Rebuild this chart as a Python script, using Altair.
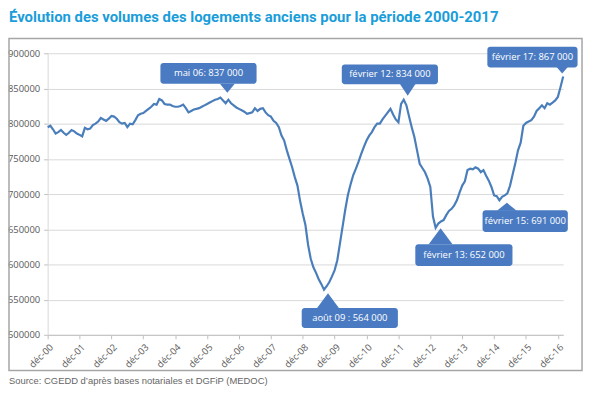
import json
import altair as alt
import pandas as pd

# ---- data (monthly, déc-00 .. févr-17) ----
volumes = [
    795000, 797000, 792000, 786000, 788000, 791000, 787000, 784000, 787000, 791000, 789000, 786000,
    784000, 782000, 794000, 792000, 793000, 798000, 800000, 803000, 808000, 806000, 804000, 807000,
    811000, 810000, 807000, 802000, 800000, 801000, 795000, 800000, 799000, 805000, 812000, 814000,
    815000, 818000, 821000, 824000, 828000, 827000, 835000, 833000, 828000, 827000, 827000, 825000,
    824000, 824000, 825000, 827000, 822000, 816000, 818000, 820000, 821000, 822000, 824000, 826000,
    828000, 830000, 832000, 834000, 835000, 837000, 833000, 829000, 834000, 829000, 826000, 823000,
    821000, 819000, 817000, 814000, 815000, 816000, 822000, 818000, 821000, 822000, 816000, 812000,
    810000, 804000, 801000, 795000, 783000, 776000, 762000, 750000, 738000, 724000, 712000, 690000,
    672000, 656000, 628000, 608000, 596000, 588000, 579000, 572000, 564000, 569000, 575000, 583000,
    592000, 606000, 630000, 654000, 678000, 699000, 714000, 727000, 736000, 746000, 757000, 767000,
    776000, 783000, 788000, 795000, 800000, 800000, 806000, 811000, 816000, 821000, 813000, 806000,
    802000, 828000, 834000, 826000, 810000, 795000, 781000, 762000, 743000, 737000, 731000, 722000,
    710000, 668000, 652000, 658000, 661000, 663000, 670000, 676000, 679000, 684000, 691000, 702000,
    712000, 718000, 734000, 736000, 735000, 738000, 736000, 731000, 734000, 726000, 719000, 710000,
    698000, 697000, 691000, 696000, 698000, 701000, 712000, 728000, 744000, 762000, 773000, 797000,
    801000, 803000, 805000, 810000, 818000, 822000, 826000, 822000, 829000, 827000, 830000, 833000,
    838000, 852000, 867000,
]
months = list(range(len(volumes)))  # months since déc-00

tick_labels = ["déc-00", "déc-01", "déc-02", "déc-03", "déc-04", "déc-05", "déc-06", "déc-07",
               "déc-08", "déc-09", "déc-10", "déc-11", "déc-12", "déc-13", "déc-14", "déc-15",
               "déc-16"]
tick_months = [12 * i for i in range(len(tick_labels))]
y_ticks = [500000, 550000, 600000, 650000, 700000, 750000, 800000, 850000, 900000]

ann_month = [65, 104, 134, 146, 170, 194]
ann_value = [837000, 564000, 834000, 652000, 691000, 867000]
ann_text = ["mai 06: 837 000", "août 09 : 564 000", "février 12: 834 000",
            "février 13: 652 000", "février 15: 691 000", "février 17: 867 000"]

title_text = "Évolution des volumes des logements anciens pour la période 2000-2017"
source_text = "Source: CGEDD d’après bases notariales et DGFiP (MEDOC)"

# ---- styles / placement of callouts (pixels relative to the point) ----
# box dx, box dy, box w, box h, pointer dx, pointer dy, pointer w, pointer h, direction
callout_style = [
    (-12, -24.5, 97, 21, 7, -9.5, 15, 9, "down"),
    (26, 28.5, 97, 20, 4, 11, 22, 15, "up"),
    (-14, -25.5, 97, 20, 4, -10, 16, 12, "down"),
    (28.5, 27.5, 98, 22, 5, 8.5, 24, 16, "up"),
    (26, 21, 86, 22, 7.5, 6.5, 20, 8, "up"),
    (-31, -19.5, 91, 21, -1, -7, 14, 8, "down"),
]

LINE = "#4a7ebb"
BOX = "#4a7bc2"
GRID = "#d9d9d9"
AXIS = "#bfbfbf"
LABEL = "#595959"

W, H = 520, 284

df = pd.DataFrame({"m": months, "v": volumes})

label_expr = json.dumps(tick_labels, ensure_ascii=False) + "[round(datum.value / 12)]"

x_scale = alt.Scale(domain=[0, len(volumes) - 1], nice=False, zero=False)
y_scale = alt.Scale(domain=[500000, 900000], nice=False, zero=False)

x_axis = alt.Axis(values=tick_months, tickCount=len(tick_months), labelExpr=label_expr,
                  labelAngle=-45, labelOverlap=False, grid=False, title=None,
                  domainColor=AXIS, tickColor=AXIS, tickSize=4, labelFont="Open Sans",
                  labelFontSize=9.5, labelColor=LABEL, labelPadding=3)
y_axis = alt.Axis(values=y_ticks, tickCount=len(y_ticks), format="d", labelOverlap=False,
                  title=None, grid=True, gridColor=GRID, domainColor=GRID, tickColor=AXIS,
                  tickSize=4, labelFont="Open Sans", labelFontSize=9.5, labelColor=LABEL,
                  labelPadding=4)

X = alt.X("m:Q", scale=x_scale, axis=x_axis)
Y = alt.Y("v:Q", scale=y_scale, axis=y_axis)

line = alt.Chart(df).mark_line(color=LINE, strokeWidth=2.2).encode(x=X, y=Y)

layers = [line]
for i in range(len(ann_month)):
    bdx, bdy, bw, bh, pdx, pdy, pw, ph, d = callout_style[i]
    a = pd.DataFrame({"m": [ann_month[i]], "v": [ann_value[i]], "t": [ann_text[i]]})
    base = alt.Chart(a)
    box = base.mark_rect(color=BOX, cornerRadius=3,
                         xOffset=bdx - bw / 2, x2Offset=bdx + bw / 2,
                         yOffset=bdy - bh / 2, y2Offset=bdy + bh / 2).encode(
        x=X, x2="m:Q", y=Y, y2="v:Q")
    r = ph / pw
    if d == "down":
        path = f"M-1,{-r} L1,{-r} L0,{r} Z"
    else:
        path = f"M-1,{r} L1,{r} L0,{-r} Z"
    ptr = base.mark_point(shape=path, size=pw * pw, filled=True, color=BOX, opacity=1,
                          strokeWidth=0, xOffset=pdx, yOffset=pdy).encode(x=X, y=Y)
    txt = base.mark_text(color="white", font="Open Sans", fontSize=9.5, dx=bdx, dy=bdy,
                         align="center", baseline="middle").encode(x=X, y=Y, text="t:N")
    layers += [box, ptr, txt]

frame = alt.Chart(pd.DataFrame({"k": [0]})).mark_rect(
    fill=None, stroke="#a6a6a6", strokeWidth=1.5).encode(
    x=alt.value(-39), x2=alt.value(539), y=alt.value(-15), y2=alt.value(320))

title = alt.Chart(pd.DataFrame({"t": [title_text]})).mark_text(
    font="Roboto", fontWeight="bold", fontSize=15, color="#1a9dd9",
    align="left", baseline="alphabetic").encode(
    x=alt.value(-39), y=alt.value(-32), text="t:N")

source = alt.Chart(pd.DataFrame({"t": [source_text]})).mark_text(
    font="Liberation Sans", fontSize=9.5, color="#666666",
    align="left", baseline="alphabetic").encode(
    x=alt.value(-39), y=alt.value(334), text="t:N")

chart = alt.layer(*layers, frame, title, source).properties(
    width=W, height=H,
    autosize=alt.AutoSizeParams(type="none"),
    padding={"left": 40, "top": 44, "right": 22, "bottom": 53},
    background="white",
).configure_view(stroke=None).configure_axis(labelOverlap=False)

chart.save("out.html", embed_options={"renderer": "svg", "actions": False})
